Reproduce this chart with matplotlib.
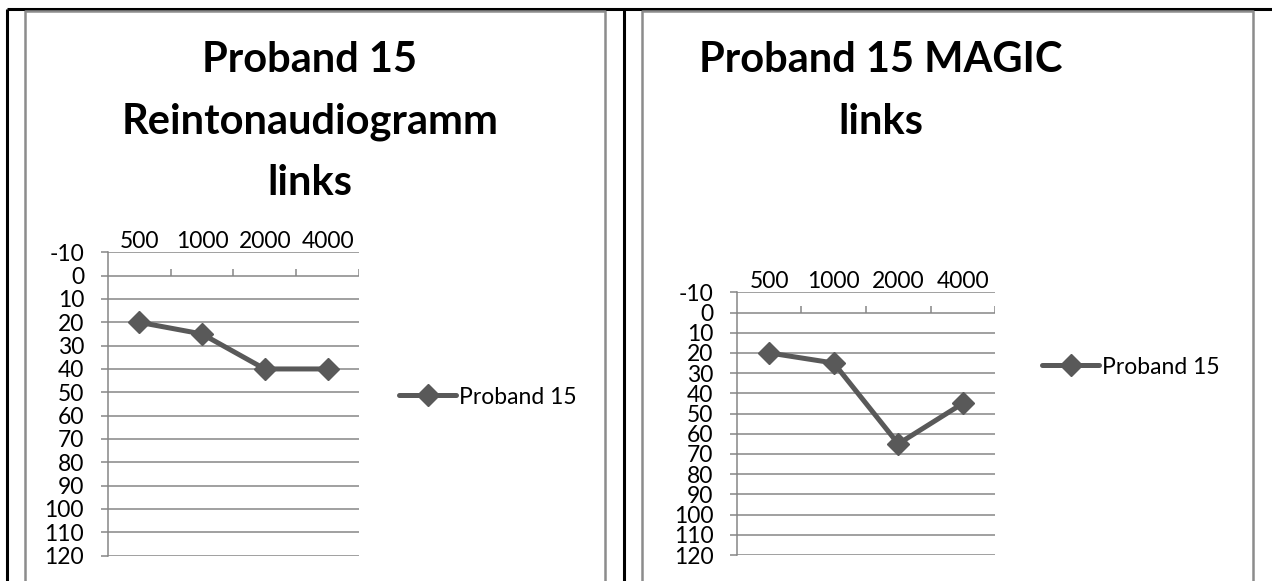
import matplotlib
matplotlib.use("Agg")
import matplotlib.pyplot as plt
from matplotlib.lines import Line2D

plt.rcParams['font.family'] = ['Lato', 'DejaVu Sans']

# ---- data ----
freqs = ["500", "1000", "2000", "4000"]
series_name = "Proband 15"
left_values = [20, 25, 40, 40]
magic_values = [20, 25, 65, 45]
y_ticks = list(range(-10, 121, 10))
title_left = ["Proband 15", "Reintonaudiogramm", "links"]
title_right = ["Proband 15 MAGIC", "links"]

W, H = 1272, 581
DPI = 100
fig = plt.figure(figsize=(W / DPI, H / DPI), dpi=DPI)
fig.patch.set_facecolor("white")

GRID = "#868686"
LINE = "#595959"
BORDER = "#8c8c8c"
FS = 16.5


def fx(x):
    return x / W


def fy(y):
    return 1 - y / H


def rect(x0, y0, x1, y1):
    return [fx(x0), fy(y1), (x1 - x0) / W, (y1 - y0) / H]


def fline(xs, ys, color, lw):
    fig.add_artist(Line2D([fx(x) for x in xs], [fy(y) for y in ys],
                          color=color, lw=lw, transform=fig.transFigure,
                          solid_capstyle="butt"))


# outer table borders (black) and chart frames (grey)
fline([7, W], [8.5, 8.5], "black", 2.2)
fline([7, 7], [8.5, H], "black", 2.2)
fline([624, 624], [8.5, H], "black", 2.2)
for (x0, x1) in [(25, 605), (642, 1253)]:
    fline([x0, x0, x1, x1], [H + 5, 11, 11, H + 5], BORDER, 1.8)


def draw_chart(box, values, legend_xy, title_lines, title_x, title_y0):
    x0, y0, x1, y1 = box
    px_per_unit = (y1 - y0) / (max(y_ticks) - min(y_ticks))
    ax = fig.add_axes(rect(x0, y0, x1, y1))
    ax.set_xlim(0.5, len(freqs) + 0.5)
    ax.set_ylim(max(y_ticks), min(y_ticks))
    for s in ["top", "right", "bottom"]:
        ax.spines[s].set_visible(False)
    ax.spines["left"].set_color(GRID)
    ax.spines["left"].set_linewidth(1.1)
    ax.set_yticks(y_ticks)
    ax.set_yticklabels([str(v) for v in y_ticks])
    ax.tick_params(axis="y", length=5, width=1.1, color=GRID, pad=12,
                   labelsize=FS, labelcolor="black")
    for v in y_ticks:
        ax.axhline(v, color=GRID, lw=1.1, zorder=1)
    # category axis at 0, ticks pointing up between categories
    cats = list(range(1, len(freqs) + 1))
    ax.vlines([c + 0.5 for c in cats], 0, -7.0 / px_per_unit,
              color=GRID, lw=1.1, zorder=1)
    ax.xaxis.tick_top()
    ax.set_xticks(cats)
    ax.set_xticklabels(freqs)
    ax.tick_params(axis="x", length=0, pad=0, labelsize=FS)
    ax.plot(cats, values, color=LINE, lw=3.6, marker="D", ms=11,
            mfc=LINE, mec=LINE, zorder=3, label=series_name,
            solid_capstyle="round", solid_joinstyle="round")
    ax.set_facecolor("none")
    lx, ly = legend_xy
    ax.legend(loc="center left", bbox_to_anchor=(fx(lx), fy(ly)),
              bbox_transform=fig.transFigure, frameon=False, fontsize=FS,
              borderpad=0, borderaxespad=0, handlelength=2.5,
              handletextpad=0.1, numpoints=1)
    for i, t in enumerate(title_lines):
        fig.text(fx(title_x), fy(title_y0 + i * 61.5), t, ha="center",
                 va="baseline", fontsize=30, fontweight="bold")
    return ax


draw_chart((107.7, 252.3, 359, 555.6), left_values, (399, 397),
           title_left, 310, 72)
draw_chart((737, 292.3, 995, 555.0), magic_values, (1042, 367),
           title_right, 881, 72)

fig.savefig("out.png", dpi=DPI, facecolor="white")
